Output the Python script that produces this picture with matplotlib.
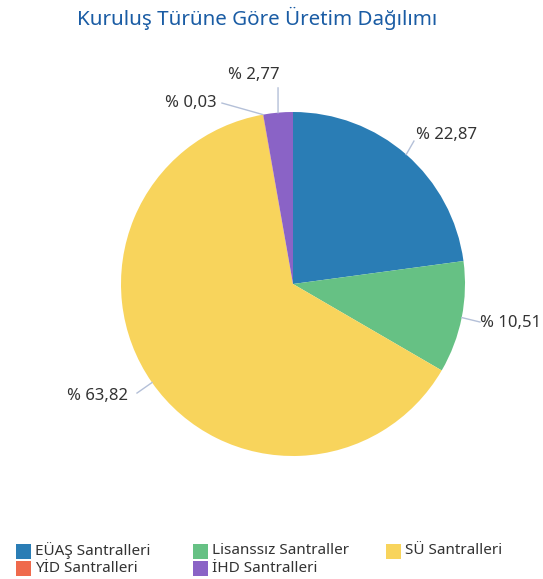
import numpy as np
import matplotlib
matplotlib.use("Agg")
import matplotlib.pyplot as plt
from matplotlib.patches import Rectangle

plt.rcParams["font.family"] = ["Noto Sans", "DejaVu Sans"]

# data
categories = ["EÜAŞ Santralleri", "Lisanssız Santraller", "SÜ Santralleri",
              "YİD Santralleri", "İHD Santralleri"]
shares = [22.87, 10.51, 63.82, 0.03, 2.77]
colors = ["#2a7db5", "#66c184", "#f8d45c", "#ef6a4c", "#8a63c6"]
title = "Kuruluş Türüne Göre Üretim Dağılımı"

# label placement (data units, pie radius = 1)
label_pos = [(0.715, 0.866), (1.087, -0.227), (-0.959, -0.651), (-0.442, 1.052), (-0.080, 1.215)]
line_end = [(0.703, 0.831), (1.087, -0.221), (-0.907, -0.634), (-0.413, 1.052), (-0.087, 1.14)]
label_ha = ["left", "left", "right", "right", "right"]

W, H = 543, 579
fig = plt.figure(figsize=(W / 100, H / 100), dpi=100)

cx, cy, r = 293, 284, 172
ax = fig.add_axes([(cx - r) / W, (H - cy - r) / H, 2 * r / W, 2 * r / H])
wedges, _ = ax.pie(shares, colors=colors, startangle=90, counterclock=False,
                   wedgeprops=dict(linewidth=0))
ax.set_xlim(-1, 1)
ax.set_ylim(-1, 1)
ax.set_aspect("equal")

for w, val, pos, end, ha in zip(wedges, shares, label_pos, line_end, label_ha):
    mid = np.deg2rad((w.theta1 + w.theta2) / 2)
    ex, ey = np.cos(mid), np.sin(mid)
    ax.plot([ex, end[0]], [ey, end[1]], color="#b4c0d8", lw=1, clip_on=False)
    txt = "% " + f"{val:.2f}".replace(".", ",")
    ax.text(pos[0], pos[1], txt, ha=ha, va="center", fontsize=12, color="#333333")

fig.text(257 / W, 1 - 18 / H, title, ha="center", va="center", fontsize=14.8, color="#1a5ca4")

# legend (row-major, 3 columns)
col_x = [16, 193, 386]
row_y = [551, 568]
sw = 15
for i, (name, c) in enumerate(zip(categories, colors)):
    x = col_x[i % 3]
    y = row_y[i // 3]
    fig.patches.append(Rectangle((x / W, (H - y - sw / 2) / H), sw / W, sw / H,
                                 transform=fig.transFigure, facecolor=c, edgecolor="none"))
    fig.text((x + sw + 4) / W, 1 - y / H, name, ha="left", va="center",
             fontsize=11, color="#333333")

fig.savefig("out.png", dpi=100)
